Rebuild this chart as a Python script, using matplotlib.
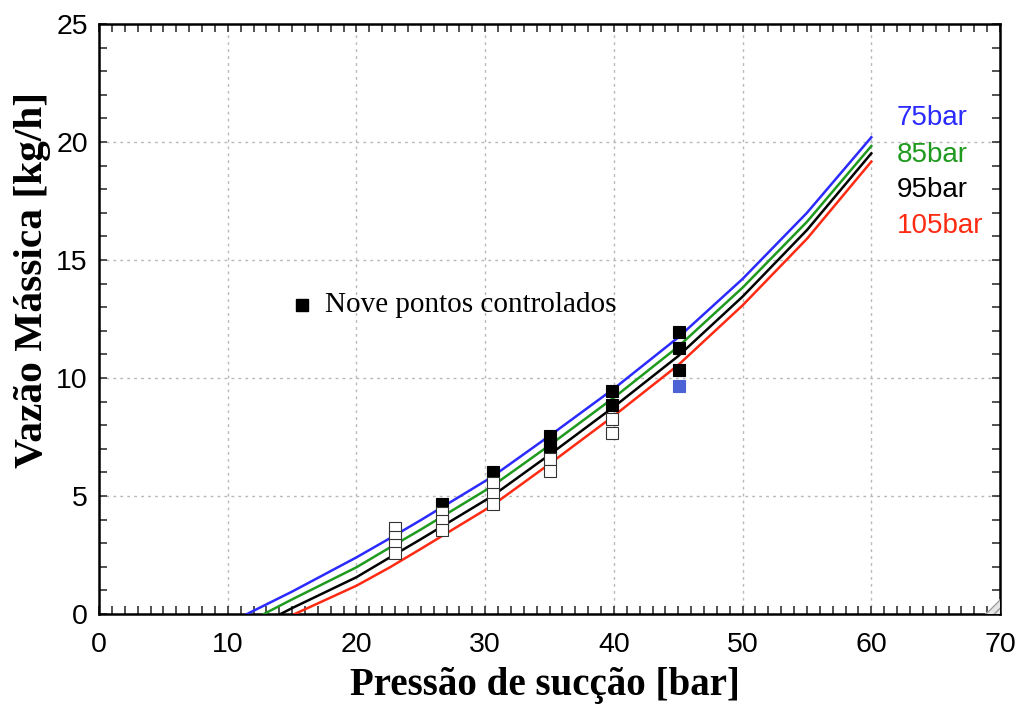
import matplotlib
matplotlib.use("Agg")
import matplotlib.pyplot as plt
from matplotlib.patches import Polygon
from matplotlib.ticker import MultipleLocator

# curves: mass flow vs suction pressure, one per discharge pressure
x_75 = [11.5, 15, 20, 22.6, 25, 30.5, 35, 40, 45, 50, 55, 60]
y_75 = [0, 0.95, 2.40, 3.21, 3.98, 5.80, 7.55, 9.55, 11.72, 14.2, 17.0, 20.2]
x_85 = [12.8, 15, 20, 22.6, 25, 30.5, 35, 40, 45, 50, 55, 60]
y_85 = [0, 0.62, 1.98, 2.82, 3.58, 5.40, 7.15, 9.17, 11.33, 13.83, 16.62, 19.83]
x_95 = [14.1, 15, 20, 22.6, 25, 30.5, 35, 40, 45, 50, 55, 60]
y_95 = [0, 0.25, 1.56, 2.40, 3.17, 4.98, 6.75, 8.78, 10.93, 13.45, 16.27, 19.52]
x_105 = [15.2, 20, 22.6, 25, 30.5, 35, 40, 45, 50, 55, 60]
y_105 = [0, 1.20, 1.98, 2.76, 4.58, 6.36, 8.40, 10.55, 13.08, 15.9, 19.17]

# measured points
filled_x = [26.65, 30.6, 35.0, 35.0, 35.0, 39.85, 39.85, 45.07, 45.07, 45.07]
filled_y = [4.66, 6.02, 7.55, 7.25, 6.95, 9.47, 8.85, 11.96, 11.27, 10.36]
open_x = [23.0, 23.0, 23.0, 23.0, 26.65, 26.65, 26.65, 30.6, 30.6, 30.6,
          35.0, 35.0, 39.85, 39.85]
open_y = [3.64, 3.26, 2.92, 2.60, 4.28, 3.92, 3.56, 5.55, 5.10, 4.66,
          6.57, 6.06, 8.26, 7.67]
blue_x = [45.07]
blue_y = [9.66]

labels = ["75bar", "85bar", "95bar", "105bar"]
label_y = [21.02, 19.45, 17.97, 16.44]
colors = ["#2b2bff", "#1f9a1f", "#000000", "#ff2a12"]

fig = plt.figure(figsize=(10.19, 7.10), dpi=100)
ax = fig.add_axes([0.0972, 0.1352, 0.8842, 0.8310])

curves = [(x_75, y_75), (x_85, y_85), (x_95, y_95), (x_105, y_105)]
for (xs, ys), c in zip(curves, colors):
    ax.plot(xs, ys, color=c, lw=1.8, zorder=3)

ax.plot(filled_x, filled_y, "s", ms=8, mfc="black", mec="black", mew=0.8, zorder=4)
ax.plot(open_x, open_y, "s", ms=8, mfc="white", mec="#333333", mew=0.8, zorder=5)
ax.plot(blue_x, blue_y, "s", ms=8, mfc="#4c63d6", mec="#4c63d6", mew=0.8, zorder=5)

for lab, ly, c in zip(labels, label_y, colors):
    ax.text(62.0, ly, lab, color=c, fontsize=20, family="Liberation Sans",
            ha="left", va="center")

ax.plot([15.77], [13.09], "s", ms=8, color="black", zorder=4)
ax.text(17.56, 13.09, "Nove pontos controlados", fontsize=21,
        family="Liberation Serif", ha="left", va="center")

ax.set_xlim(0, 70)
ax.set_ylim(0, 25)
ax.xaxis.set_major_locator(MultipleLocator(10))
ax.xaxis.set_minor_locator(MultipleLocator(1))
ax.yaxis.set_major_locator(MultipleLocator(5))
ax.yaxis.set_minor_locator(MultipleLocator(1))
ax.tick_params(which="both", direction="in", top=True, right=True,
               length=6, width=1.2, color="#333333")
ax.tick_params(axis="x", pad=13, labelsize=20.5)
ax.tick_params(axis="y", pad=8, labelsize=20.5)
for t in ax.get_xticklabels() + ax.get_yticklabels():
    t.set_family("Liberation Sans")

for s in ax.spines.values():
    s.set_linewidth(1.8)
    s.set_color("black")

ax.grid(True, which="major", color="#b8b8b8", lw=1, linestyle=(0, (2, 3)))
ax.set_axisbelow(True)

ax.set_xlabel("Pressão de sucção [bar]", fontsize=28, fontweight="bold",
              family="Liberation Serif")
ax.set_ylabel("Vazão Mássica [kg/h]", fontsize=29.8, fontweight="bold",
              family="Liberation Serif")
ax.xaxis.set_label_coords(0.495, -0.09)
ax.yaxis.set_label_coords(-0.053, 0.566)

# little resize grip in the corner
grip = Polygon([(0.9834, 0), (1, 0), (1, 0.0254)], closed=True,
               transform=ax.transAxes, facecolor="#e6e6e6", edgecolor="#999999",
               hatch="////", lw=0, zorder=6, clip_on=False)
ax.add_patch(grip)

fig.savefig("out.png", dpi=100)
